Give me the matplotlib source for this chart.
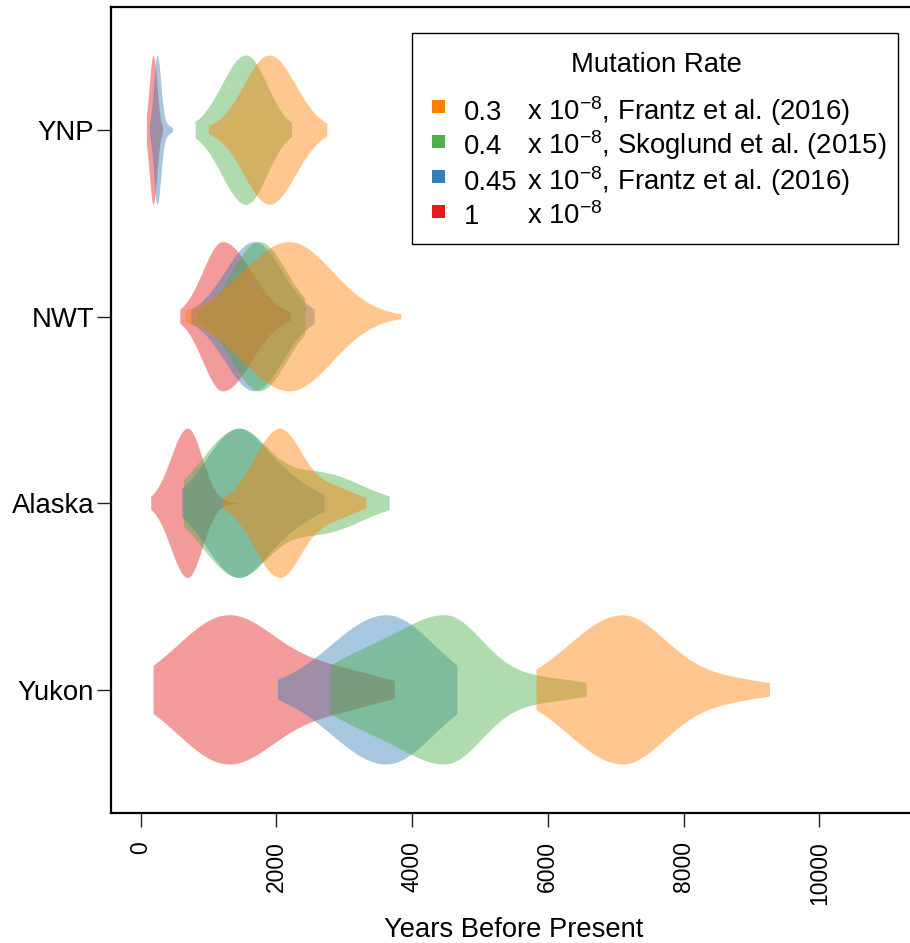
import numpy as np
import matplotlib
matplotlib.use("Agg")
import matplotlib.pyplot as plt
from matplotlib.patches import Rectangle

plt.rcParams['font.family'] = ['Liberation Sans', 'DejaVu Sans']
plt.rcParams['mathtext.fontset'] = 'custom'
plt.rcParams['mathtext.rm'] = 'Liberation Sans'
plt.rcParams['mathtext.it'] = 'Liberation Sans:italic'
plt.rcParams['mathtext.bf'] = 'Liberation Sans:bold'

# ---------------- data ----------------
regions = ["Yukon", "Alaska", "NWT", "YNP"]          # y positions 1..4
region_pos = [1, 2, 3, 4]
rate_values = ["0.3", "0.4", "0.45", "1"]
rate_refs = [", Frantz et al. (2016)", ", Skoglund et al. (2015)",
             ", Frantz et al. (2016)", ""]
rate_colors = ["#FF7F00", "#4DAF4A", "#377EB8", "#E41A1C"]

# range (years before present) of the estimates; rows = rate, cols = region
year_min = [
    [5834, 1214, 663, 1007],   # 0.3
    [2801, 639, 845, 811],     # 0.4
    [2025, 614, 747, 140],     # 0.45
    [192, 157, 585, 93],       # 1
]
year_max = [
    [9273, 3327, 3843, 2752],
    [6571, 3671, 2428, 2231],
    [4669, 2713, 2565, 477],
    [3745, 1563, 2211, 330],
]

# density modes of each estimate: (centre, spread left, spread right, weight)
modes_03 = [
    [(7087, 780, 650, 1.0), (8600, 700, 700, 0.14)],
    [(2049, 365, 330, 1.0), (2850, 330, 330, 0.20)],
    [(2197, 680, 630, 1.0)],
    [(1902, 372, 385, 1.0)],
]
modes_04 = [
    [(4507, 700, 540, 1.0), (3200, 600, 600, 0.37), (5900, 700, 700, 0.16)],
    [(1420, 520, 450, 1.0), (2650, 600, 600, 0.42)],
    [(1754, 395, 400, 1.0)],
    [(1558, 355, 310, 1.0)],
]
modes_045 = [
    [(3622, 800, 700, 1.0)],
    [(1420, 450, 420, 1.0), (2200, 400, 400, 0.25)],
    [(1681, 430, 410, 1.0)],
    [(251, 50, 55, 1.0), (400, 60, 60, 0.06)],
]
modes_1 = [
    [(1280, 730, 720, 1.0), (2900, 700, 700, 0.25)],
    [(698, 245, 215, 1.0)],
    [(1214, 290, 420, 1.0)],
    [(192, 55, 55, 1.0)],
]
all_modes = [modes_03, modes_04, modes_045, modes_1]

x_ticks = [0, 2000, 4000, 6000, 8000, 10000]
x_limits = (0, 11000)

# ---------------- figure ----------------
W, H = 910, 943
fig = plt.figure(figsize=(W / 100, H / 100), dpi=100)
L, R_, T, B = 110.7, 917.0, 7.0, 813.0
ax = fig.add_axes([L / W, 1 - B / H, (R_ - L) / W, (B - T) / H])


def density(coords, modes):
    vals = np.zeros_like(coords)
    for c, sl, sr, w in modes:
        s = np.where(coords < c, sl, sr)
        vals += w * np.exp(-0.5 * ((coords - c) / s) ** 2)
    return vals


# drawn from the last legend entry to the first (orange ends on top)
for ri in reversed(range(len(rate_values))):
    stats = []
    for gi in range(len(regions)):
        lo, hi = year_min[ri][gi], year_max[ri][gi]
        coords = np.linspace(lo, hi, 400)
        vals = density(coords, all_modes[ri][gi])
        stats.append(dict(coords=coords, vals=vals, mean=np.nan, median=np.nan,
                          min=lo, max=hi, quantiles=[]))
    try:
        parts = ax.violin(stats, positions=region_pos, orientation='horizontal',
                          widths=0.8, showmeans=False, showextrema=False,
                          showmedians=False)
    except TypeError:
        parts = ax.violin(stats, positions=region_pos, vert=False,
                          widths=0.8, showmeans=False, showextrema=False,
                          showmedians=False)
    for body in parts['bodies']:
        body.set_facecolor(rate_colors[ri])
        body.set_edgecolor('none')
        body.set_linewidth(0)
        body.set_alpha(0.44)

span = x_limits[1] - x_limits[0]
ax.set_xlim(x_limits[0] - 0.04 * span, x_limits[1] + 0.04 * span)
ax.set_ylim(0.5 - 0.16, 4.5 + 0.16)
ax.set_xticks(x_ticks)
ax.set_xticklabels([str(t) for t in x_ticks], rotation=90)
ax.set_yticks(region_pos)
ax.set_yticklabels(regions)
ax.tick_params(axis='both', length=10, width=1.0, color='#222222',
               labelcolor='black')
ax.tick_params(axis='x', pad=10.5, labelsize=16.5)
ax.tick_params(axis='y', pad=2, labelsize=19.8)
for sp in ax.spines.values():
    sp.set_linewidth(1.6)
    sp.set_color('black')

fig.text((L + R_) / 2 / W, 1 - 937 / H, "Years Before Present",
         ha='center', va='baseline', fontsize=19.7)

# ---------------- legend ----------------
def fx(px):
    return px / W


def fy(py):
    return 1 - py / H


LEG_FS = 19.8
fig.patches.append(Rectangle((fx(412), fy(244)), (898 - 412) / W, (244 - 33) / H,
                             transform=fig.transFigure, facecolor='white',
                             edgecolor='black', linewidth=1.0, zorder=5))
fig.text(fx(656), fy(72.5), "Mutation Rate", ha='center', va='baseline',
         fontsize=LEG_FS, zorder=6)
for i in range(len(rate_values)):
    yc = 106 + 35 * i
    fig.patches.append(Rectangle((fx(431.5), fy(yc + 6.5)), 13 / W, 13 / H,
                                 transform=fig.transFigure,
                                 facecolor=rate_colors[i], edgecolor='none',
                                 zorder=6))
    yb = 119.5 + 35 * i
    fig.text(fx(464), fy(yb), rate_values[i], ha='left', va='baseline',
             fontsize=LEG_FS, zorder=6)
    fig.text(fx(527), fy(yb), r"x 10$^{-8}$" + rate_refs[i], ha='left',
             va='baseline', fontsize=LEG_FS, zorder=6)

fig.savefig("out.png", dpi=100)
